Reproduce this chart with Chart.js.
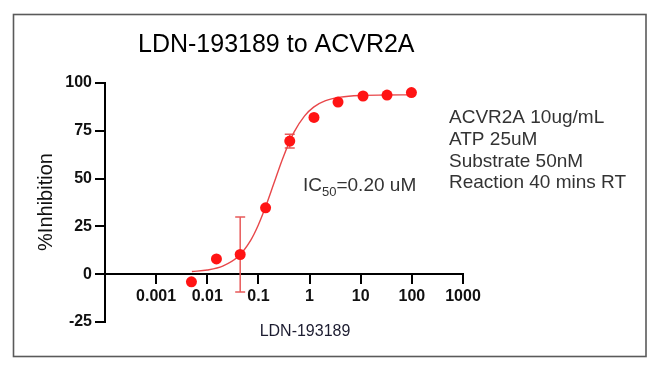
<!DOCTYPE html>
<html>
<head>
<meta charset="utf-8">
<script src="https://cdn.jsdelivr.net/npm/chart.js@4.4.1/dist/chart.umd.min.js"></script>
<style>
  html, body { margin: 0; padding: 0; background: #fff; }
  #wrap { position: relative; width: 653px; height: 370px; }
</style>
</head>
<body>
<div id="wrap"><canvas id="ic50Chart" width="653" height="370"></canvas></div>
<script>
// measured points (uM, % inhibition)
const concentrations = [0.0049, 0.0151, 0.044, 0.138, 0.41, 1.22, 3.6, 11.1, 32.7, 98];
const inhibition = [-4, 8, 10.3, 34.7, 69.6, 82, 90, 93.2, 93.7, 95];
const inhibitionErr = [0, 0, 19.6, 0, 3.6, 0, 0, 0, 0, 0];

// fitted curve
const fitX = [0.005, 0.01, 0.02, 0.04, 0.07, 0.1, 0.15, 0.2, 0.3, 0.5, 0.8, 1.2, 2, 4, 10, 30, 100];
const fitY = [1.4, 2.2, 4.2, 9.2, 17.6, 25.9, 37.9, 47.4, 60.7, 74.4, 82.8, 87.4, 90.6, 92.6, 93.5, 93.7, 93.8];

const xTickValues = [0.001, 0.01, 0.1, 1, 10, 100, 1000];
const xTickLabels = ['0.001', '0.01', '0.1', '1', '10', '100', '1000'];

const chartTitle = 'LDN-193189 to ACVR2A';
const xTitle = 'LDN-193189';
const yTitle = '%Inhibition';
const conditions = ['ACVR2A 10ug/mL', 'ATP 25uM', 'Substrate 50nM', 'Reaction 40 mins RT'];

const pointData = concentrations.map((c, i) => ({ x: c, y: inhibition[i] }));
const fitData = fitX.map((c, i) => ({ x: c, y: fitY[i] }));

const extras = {
  id: 'extras',
  beforeDraw(chart) {
    const ctx = chart.ctx;
    ctx.save();
    ctx.fillStyle = '#fff';
    ctx.fillRect(0, 0, chart.width, chart.height);
    ctx.strokeStyle = '#5a5a5a';
    ctx.lineWidth = 1.6;
    ctx.strokeRect(13.5, 14.5, 632.5, 342);
    ctx.restore();
  },
  beforeDatasetsDraw(chart) {
    // error bars under the dots
    const ctx = chart.ctx;
    const xs = chart.scales.x, ys = chart.scales.y;
    ctx.save();
    ctx.strokeStyle = '#e85a5a';
    ctx.lineWidth = 1.5;
    concentrations.forEach((c, i) => {
      const e = inhibitionErr[i];
      if (!e) return;
      const px = xs.getPixelForValue(c);
      const top = ys.getPixelForValue(inhibition[i] + e);
      const bot = ys.getPixelForValue(inhibition[i] - e);
      ctx.beginPath();
      ctx.moveTo(px, top); ctx.lineTo(px, bot);
      ctx.moveTo(px - 5, top); ctx.lineTo(px + 5, top);
      ctx.moveTo(px - 5, bot); ctx.lineTo(px + 5, bot);
      ctx.stroke();
    });
    ctx.restore();
  },
  afterDraw(chart) {
    const ctx = chart.ctx;
    ctx.save();
    ctx.fillStyle = '#000';
    ctx.textBaseline = 'alphabetic';
    ctx.textAlign = 'left';
    ctx.font = '25px "Liberation Sans", Arial, sans-serif';
    ctx.fillText(chartTitle, 138, 52);

    // y title
    ctx.save();
    ctx.translate(46, 202);
    ctx.rotate(-Math.PI / 2);
    ctx.textAlign = 'center';
    ctx.textBaseline = 'middle';
    ctx.font = '20px "Liberation Sans", Arial, sans-serif';
    ctx.fillStyle = '#111';
    ctx.fillText(yTitle, 0, 0);
    ctx.restore();

    // x title
    ctx.textAlign = 'center';
    ctx.textBaseline = 'middle';
    ctx.font = '16px "Liberation Sans", Arial, sans-serif';
    ctx.fillStyle = '#1c1c30';
    ctx.fillText(xTitle, 305, 332);

    // IC50 label
    ctx.textAlign = 'left';
    ctx.textBaseline = 'alphabetic';
    ctx.fillStyle = '#333';
    ctx.font = '19px "Liberation Sans", Arial, sans-serif';
    let x = 303;
    ctx.fillText('IC', x, 191);
    x += ctx.measureText('IC').width;
    ctx.font = '13px "Liberation Sans", Arial, sans-serif';
    ctx.fillText('50', x, 196);
    x += ctx.measureText('50').width;
    ctx.font = '19px "Liberation Sans", Arial, sans-serif';
    ctx.fillText('=0.20 uM', x, 191);

    // assay conditions
    ctx.textBaseline = 'middle';
    conditions.forEach((line, i) => {
      ctx.fillText(line, 449, 118 + i * 21.7);
    });
    ctx.restore();
  }
};

new Chart(document.getElementById('ic50Chart'), {
  type: 'scatter',
  data: {
    datasets: [
      {
        label: 'data',
        data: pointData,
        pointRadius: 5.5,
        pointHoverRadius: 5.5,
        backgroundColor: '#ff1414',
        borderColor: '#ff1414',
        borderWidth: 0,
        showLine: false
      },
      {
        label: 'fit',
        data: fitData,
        showLine: true,
        pointRadius: 0,
        borderColor: '#e8474a',
        borderWidth: 1.4,
        cubicInterpolationMode: 'monotone',
        fill: false
      }
    ]
  },
  options: {
    responsive: false,
    animation: false,
    layout: { padding: { left: 0, top: 83, right: 190, bottom: 48 } },
    plugins: {
      legend: { display: false },
      tooltip: { enabled: false }
    },
    scales: {
      x: {
        type: 'logarithmic',
        position: { y: 0 },
        min: 0.0001,
        max: 1000,
        afterBuildTicks(scale) {
          scale.ticks = xTickValues.map(v => ({ value: v }));
        },
        ticks: {
          autoSkip: false,
          maxRotation: 0,
          padding: 4,
          color: '#111',
          font: { family: '"Liberation Sans", Arial, sans-serif', size: 16, weight: 'bold' },
          callback: (v, i) => xTickLabels[i]
        },
        grid: { display: true, drawOnChartArea: false, drawTicks: true, tickLength: 9, color: '#000', lineWidth: 2 },
        border: { display: true, color: '#000', width: 2 }
      },
      y: {
        min: -25,
        max: 100,
        afterFit(scale) { scale.width = 105; },
        ticks: {
          stepSize: 25,
          padding: 3,
          color: '#111',
          font: { family: '"Liberation Sans", Arial, sans-serif', size: 16, weight: 'bold' }
        },
        grid: { display: true, drawOnChartArea: false, drawTicks: true, tickLength: 10, color: '#000', lineWidth: 2 },
        border: { display: true, color: '#000', width: 2 }
      }
    }
  },
  plugins: [extras]
});
</script>
</body>
</html>
